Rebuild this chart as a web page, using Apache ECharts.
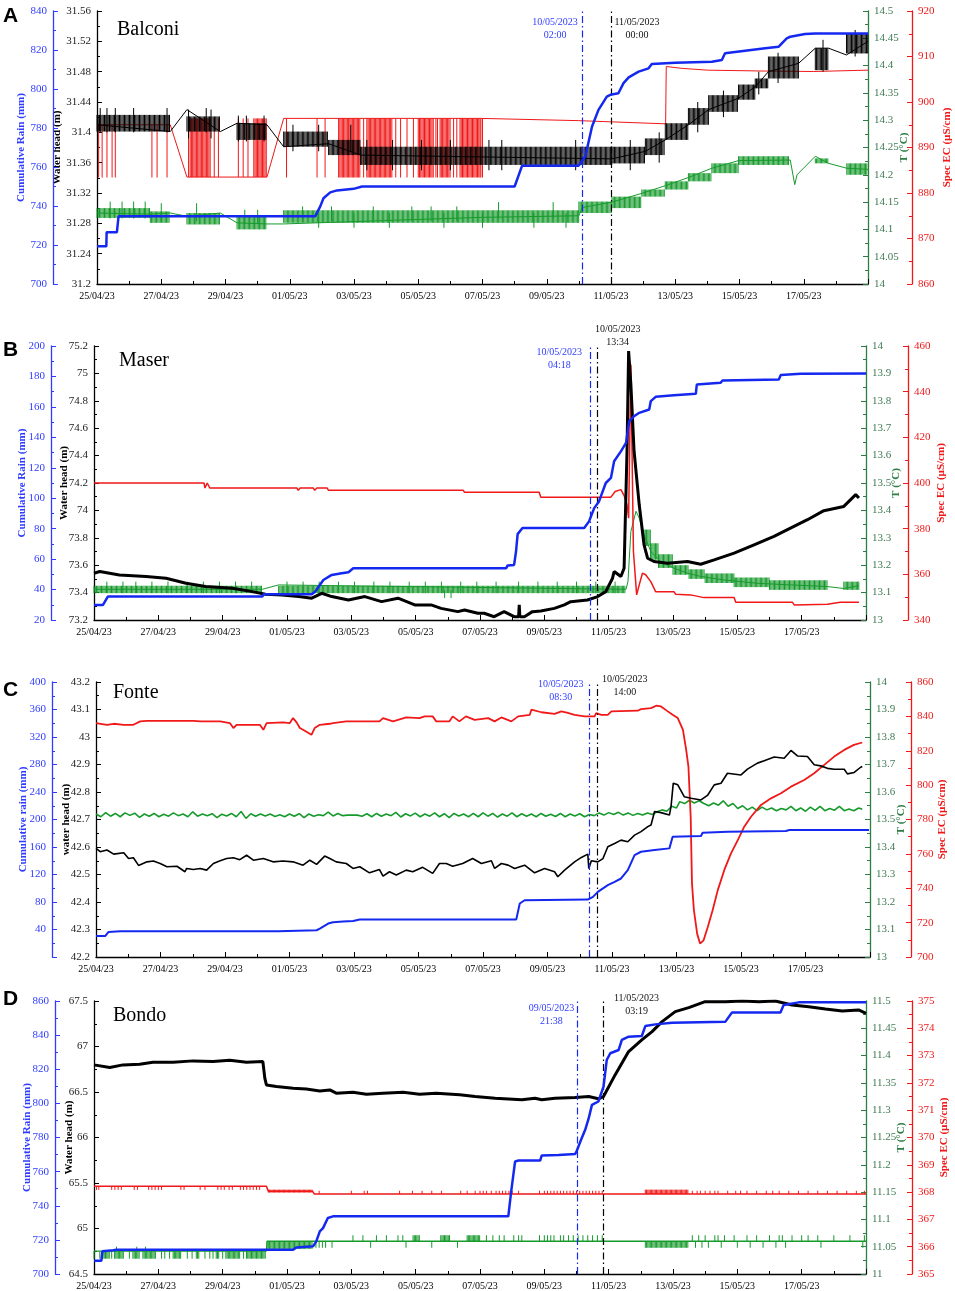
<!DOCTYPE html>
<html>
<head>
<meta charset="utf-8">
<script src="https://cdn.jsdelivr.net/npm/echarts@6/dist/echarts.min.js"></script>
<style>
html, body { margin: 0; padding: 0; background: #fff; }
#chart { width: 955px; height: 1291px; }
</style>
</head>
<body>
<div id="chart"></div>
<script>
// time is in days since 25/04/2023 00:00

// ---- A: Balconi ----
const aRain = [[0,719.3],[0.29,719.3],[0.3,726.6],[0.62,726.6],[0.67,734.7],[6.79,734.7],[6.95,739.8],[7.05,744],[7.26,747],[7.47,748],[7.99,748.8],[8.25,750],[13.0,750],[13.23,760.6],[14.99,760.6],[15.2,765.4],[15.41,780.8],[15.61,789.3],[15.87,796.1],[15.98,797],[16.23,797.8],[16.39,803],[16.55,806],[16.86,808.9],[17.17,810.6],[17.27,812.8],[18.0,813.5],[19.14,814],[19.45,814.9],[19.55,818.3],[20.8,820.9],[21.22,821.7],[21.47,826],[21.58,826.8],[22.04,828.2],[22.36,828.5],[24.0,828.5]];
const aHead = [[0,31.41],[2.28,31.401],[2.8,31.43],[3.84,31.401],[4.36,31.412],[5.29,31.41],[5.81,31.381],[7.21,31.385],[8.2,31.37],[16.03,31.365],[17.07,31.375],[17.69,31.39],[18.41,31.41],[19.04,31.43],[19.97,31.445],[20.49,31.46],[20.9,31.48],[21.84,31.491],[22.36,31.511],[22.77,31.511],[23.33,31.502],[24.0,31.52]];
const aHeadBlocks = [[0,2.28,31.401,31.423],[2.8,3.84,31.401,31.421],[4.36,5.29,31.39,31.412],[5.81,7.21,31.381,31.401],[7.21,8.2,31.37,31.39],[8.2,16.03,31.357,31.381],[16.03,17.07,31.359,31.381],[17.07,17.69,31.37,31.392],[17.69,18.41,31.39,31.412],[18.41,19.04,31.41,31.432],[19.04,19.97,31.427,31.449],[19.97,20.49,31.443,31.463],[20.49,20.9,31.458,31.471],[20.9,21.84,31.471,31.5],[22.36,22.77,31.482,31.511],[23.33,24.0,31.504,31.53]];
const aHeadSpikes = [
  [31.40, 31.432, [0.1, 0.31, 0.57, 1.14, 2.18, 3.4]],
  [31.392, 31.43, [2.85, 3.55]],
  [31.388, 31.422, [4.4, 4.65, 5.2]],
  [31.375, 31.41, [6.1, 6.9, 7.9]],
  [31.35, 31.39, [8.4, 9.2, 10.1, 11.0, 12.2, 12.6, 14.9, 16.6]],
  [31.36, 31.40, [17.5]], [31.40, 31.44, [18.7]], [31.42, 31.455, [19.5]],
  [31.45, 31.48, [20.6]], [31.465, 31.505, [21.2]], [31.48, 31.522, [22.6]], [31.50, 31.535, [23.6]]
];
const aTemp = [[0,14.13],[1.66,14.128],[2.28,14.13],[2.8,14.124],[3.84,14.13],[4.36,14.112],[5.29,14.11],[5.81,14.11],[11.93,14.122],[15.0,14.125],[15.1,14.14],[16.03,14.15],[16.96,14.166],[17.69,14.18],[18.41,14.195],[19.14,14.212],[19.97,14.226],[21.58,14.227],[21.72,14.182],[21.79,14.2],[22.36,14.234],[22.77,14.221],[23.34,14.212],[24,14.21]];
const aTempBlocks = [[0,1.66,14.121,14.139],[1.66,2.28,14.112,14.133],[2.8,3.84,14.109,14.13],[4.36,5.29,14.1,14.124],[5.81,15.0,14.112,14.135],[15.0,16.03,14.13,14.151],[16.03,16.96,14.139,14.16],[16.96,17.69,14.16,14.173],[17.69,18.41,14.173,14.188],[18.41,19.14,14.188,14.203],[19.14,19.97,14.203,14.221],[19.97,21.53,14.218,14.234],[22.36,22.77,14.221,14.23],[23.34,24,14.2,14.221]];
const aTempSpikes = [
  [14.12, 14.151, [0.41, 0.78, 1.14, 1.5]],
  [14.115, 14.148, [2.0, 3.1]],
  [14.11, 14.136, [4.6, 5.0]],
  [14.115, 14.142, [6.4, 7.3, 8.6, 9.8, 10.4, 11.2]],
  [14.103, 14.13, [6.9, 8.0, 9.1, 10.8, 12.0, 13.6, 14.6]],
  [14.12, 14.15, [12.5, 14.2]]
];
const aEc = [[0,895],[2.28,895],[2.8,883.5],[5.29,883.5],[5.81,896.4],[11.93,896.4],[15.0,895.9],[17.7,895.2],[17.72,907.8],[18.2,907.4],[19.0,907.0],[20.8,906.8],[22.3,906.7],[24.0,907.0]];
const aEcBlocks = [[2.9,3.53,883.5,896.4],[4.88,5.29,883.5,896.4],[7.52,8.2,883.4,896.4],[8.4,9.18,883.4,896.4],[10.0,10.48,883.4,896.4],[10.68,11.0,883.4,896.4],[11.3,11.93,883.4,896.4]];
const aEcSpikes = [
  [883.4, 895, [0.05, 0.16, 0.31, 0.47, 0.57, 1.71, 1.87, 2.18]],
  [883.5, 896.4, [2.85, 3.65, 3.78, 4.4, 4.55, 4.7]],
  [883.4, 896.4, [5.9, 6.85, 7.1, 8.3, 9.3, 9.45, 9.65, 9.85, 10.55, 10.6, 11.1, 11.2, 11.95, 12.0]]
];

// ---- B: Maser ----
const bRain = [[0,29.9],[0.28,29.9],[0.43,35.4],[5.23,35.4],[5.28,36.9],[6.77,36.9],[6.88,38.7],[7.13,46.3],[7.39,49.6],[7.70,50.7],[7.91,51.4],[8.06,54.0],[12.81,54.0],[12.86,55.8],[13.06,56.2],[13.12,65],[13.17,76.4],[13.32,80.4],[15.24,80.4],[15.39,84.8],[15.55,93.5],[15.70,97.9],[15.91,110],[16.07,113.3],[16.17,124.3],[16.38,130.8],[16.54,136.3],[16.64,150.6],[16.79,153.9],[16.95,156.1],[17.26,158.3],[17.31,163.8],[17.46,166.6],[18.03,167.7],[18.71,168.6],[18.74,174.7],[19.48,175.8],[19.54,177.4],[21.29,178],[21.35,180.9],[21.97,181.8],[24.0,182]];
const bHead = [[0,73.541],[0.18,73.554],[0.79,73.529],[1.62,73.517],[2.24,73.505],[2.86,73.468],[3.47,73.444],[4.3,73.432],[4.92,73.407],[5.33,73.388],[5.85,73.383],[6.36,73.371],[6.77,73.359],[7.08,73.395],[7.39,73.371],[7.91,73.346],[8.42,73.371],[8.94,73.334],[9.45,73.359],[9.97,73.31],[10.48,73.31],[10.79,73.285],[11.31,73.261],[11.52,73.273],[11.93,73.249],[12.13,73.249],[12.44,73.224],[12.75,73.261],[13.06,73.224],[13.2,73.224],[13.22,73.31],[13.24,73.224],[13.38,73.224],[13.63,73.261],[13.89,73.266],[14.31,73.285],[14.62,73.31],[14.82,73.334],[15.34,73.346],[15.66,73.371],[15.91,73.407],[16.12,73.505],[16.17,73.554],[16.38,73.517],[16.48,73.578],[16.57,74.432],[16.62,75.163],[16.66,75.171],[16.69,74.92],[16.79,74.432],[16.95,74.041],[17.1,73.749],[17.21,73.651],[17.41,73.627],[17.83,73.615],[18.45,73.627],[18.86,73.607],[19.28,73.639],[19.9,73.688],[20.52,73.749],[21.14,73.81],[21.76,73.883],[22.18,73.932],[22.69,73.998],[23.31,74.029],[23.68,74.115],[23.78,74.09]];
const bTemp = [[0,13.112],[5.23,13.112],[5.74,13.128],[16.54,13.112],[16.6,13.14],[16.69,13.323],[16.85,13.397],[16.95,13.372],[17.1,13.311],[17.31,13.25],[17.62,13.213],[18.03,13.189],[18.45,13.171],[18.86,13.159],[19.59,13.146],[20.62,13.134],[21.66,13.128],[22.8,13.122],[23.31,13.115],[23.78,13.125]];
const bTempBlocks = [[0,5.23,13.098,13.125],[5.74,16.54,13.098,13.125],[17.1,17.3,13.27,13.33],[17.3,17.55,13.22,13.28],[17.55,18.0,13.19,13.24],[18.0,18.5,13.165,13.2],[18.5,19.0,13.15,13.185],[19.0,19.9,13.135,13.17],[19.9,21.0,13.12,13.155],[21.0,22.8,13.11,13.145],[23.31,23.78,13.11,13.14]];
const bTempSpikes = [
  [13.098, 13.14, [0.4,0.9,1.3,1.8,2.3,2.9,3.4,3.9,4.4,4.9,6.0,6.5,7.0,7.6,8.1,8.7,9.2,9.8,10.3,10.8,11.4,11.9,12.5,13.2,13.8,14.4,15.0,15.6,16.2]],
  [13.08, 13.11, [10.9, 11.1]]
];
const bEc = [[0,400],[3.42,400],[3.45,397.8],[3.52,400],[3.6,397.8],[6.31,397.8],[6.35,396.8],[6.41,397.8],[6.82,397.8],[6.86,396.8],[6.93,397.8],[7.25,397.8],[7.29,396.8],[10.79,396.8],[10.82,396],[10.86,396.8],[11.48,396.8],[11.52,395.9],[13.84,395.9],[13.89,393.8],[16.07,393.8],[16.2,396.3],[16.38,397.1],[16.48,394.5],[16.57,390.5],[16.62,384.6],[16.66,384.6],[16.69,451.9],[16.77,370],[16.87,351],[16.95,355.4],[17.05,360.5],[17.15,359.8],[17.31,356.8],[17.46,352.4],[18.03,352.4],[18.08,351.3],[18.55,351],[18.96,349.8],[19.9,349.8],[19.95,347.8],[21.71,347.8],[21.77,346.6],[22.8,346.9],[23.2,347.8],[23.78,347.8]];

// ---- C: Fonte ----
const cRain = [[0,30.6],[0.29,30.6],[0.39,36.5],[0.75,37.4],[5.65,37.4],[5.7,38.9],[6.84,38.9],[6.94,41.3],[7.2,48.6],[7.35,50.5],[7.66,51.5],[7.97,52.5],[8.18,54.4],[13.03,54.4],[13.14,77.8],[13.29,82.6],[15.25,83.6],[15.41,87.5],[15.56,94.8],[15.87,104.5],[16.08,109.4],[16.28,114.2],[16.49,126.4],[16.7,148.2],[16.9,153.1],[17.32,155.5],[17.78,158],[17.88,175],[18.76,176],[18.81,180.8],[19.59,182.3],[21.39,183.2],[21.5,184.7],[23.97,184.7]];
const cHead = [[0,42.595],[0.13,42.583],[0.34,42.589],[0.55,42.574],[0.86,42.579],[1.01,42.558],[1.16,42.561],[1.32,42.533],[1.58,42.546],[1.78,42.549],[1.99,42.54],[2.2,42.528],[2.51,42.53],[2.76,42.51],[2.81,42.522],[3.02,42.518],[3.23,42.522],[3.43,42.516],[3.64,42.54],[3.85,42.55],[4.05,42.558],[4.26,42.561],[4.46,42.554],[4.67,42.57],[4.88,42.552],[5.19,42.558],[5.49,42.546],[5.8,42.549],[6.11,42.546],[6.42,42.534],[6.63,42.552],[6.84,42.537],[7.09,42.567],[7.25,42.558],[7.45,42.546],[7.76,42.54],[7.97,42.522],[8.18,42.528],[8.48,42.506],[8.79,42.518],[8.9,42.494],[9.1,42.51],[9.31,42.498],[9.62,42.516],[9.82,42.51],[10.13,42.526],[10.44,42.504],[10.65,42.54],[10.86,42.54],[11.06,42.53],[11.37,42.54],[11.68,42.558],[11.95,42.54],[12.26,42.55],[12.36,42.522],[12.57,42.54],[12.78,42.534],[12.98,42.522],[13.29,42.534],[13.6,42.506],[13.91,42.522],[14.22,42.51],[14.32,42.492],[14.53,42.516],[14.84,42.546],[15.05,42.562],[15.25,42.574],[15.28,42.522],[15.36,42.55],[15.56,42.546],[15.72,42.558],[15.87,42.601],[16.08,42.613],[16.28,42.625],[16.49,42.619],[16.7,42.643],[16.9,42.656],[17.11,42.674],[17.21,42.68],[17.32,42.729],[17.52,42.725],[17.78,42.716],[17.83,42.747],[17.9,42.832],[18.04,42.826],[18.24,42.783],[18.45,42.777],[18.76,42.771],[18.97,42.789],[19.17,42.826],[19.38,42.832],[19.58,42.868],[20.0,42.862],[20.2,42.883],[20.51,42.905],[20.72,42.914],[21.03,42.927],[21.34,42.923],[21.55,42.951],[21.75,42.931],[22.06,42.929],[22.27,42.899],[22.47,42.895],[22.68,42.886],[22.89,42.883],[23.2,42.883],[23.3,42.866],[23.51,42.871],[23.71,42.89],[23.76,42.893]];
const cTemp = [[0,13.52],[0.15,13.51],[0.3,13.525],[0.45,13.512],[0.6,13.522],[0.75,13.51],[0.9,13.524],[1.05,13.515],[1.2,13.523],[1.35,13.508],[1.5,13.52],[1.65,13.512],[1.8,13.522],[1.95,13.51],[2.1,13.519],[2.25,13.512],[2.4,13.524],[2.55,13.514],[2.7,13.52],[2.85,13.51],[3.0,13.528],[3.15,13.512],[3.3,13.52],[3.45,13.514],[3.6,13.521],[3.75,13.507],[3.9,13.519],[4.05,13.513],[4.2,13.522],[4.35,13.51],[4.5,13.529],[4.65,13.504],[4.8,13.521],[4.95,13.512],[5.1,13.52],[5.25,13.513],[5.4,13.52],[5.55,13.511],[5.7,13.517],[5.85,13.51],[6.0,13.52],[6.15,13.512],[6.3,13.521],[6.45,13.507],[6.6,13.52],[6.75,13.512],[6.9,13.517],[7.05,13.514],[7.2,13.527],[7.35,13.513],[7.5,13.522],[7.65,13.514],[7.8,13.516],[8.1,13.516],[8.25,13.512],[8.4,13.521],[8.55,13.51],[8.7,13.522],[8.85,13.512],[9.0,13.52],[9.15,13.514],[9.3,13.526],[9.45,13.509],[9.6,13.521],[9.75,13.513],[9.9,13.523],[10.05,13.51],[10.2,13.52],[10.35,13.512],[10.5,13.524],[10.65,13.51],[10.8,13.521],[10.95,13.507],[11.1,13.522],[11.25,13.513],[11.4,13.52],[11.55,13.51],[11.7,13.522],[11.85,13.51],[12.0,13.524],[12.15,13.512],[12.3,13.522],[12.45,13.509],[12.6,13.52],[12.75,13.512],[12.9,13.524],[13.05,13.51],[13.2,13.521],[13.35,13.512],[13.5,13.52],[13.65,13.51],[13.8,13.522],[13.95,13.512],[14.1,13.519],[14.25,13.511],[14.4,13.522],[14.55,13.51],[14.7,13.52],[14.85,13.513],[15.0,13.521],[15.15,13.51],[15.3,13.518],[15.45,13.514],[15.6,13.524],[15.75,13.516],[15.9,13.525],[16.05,13.518],[16.2,13.526],[16.35,13.516],[16.5,13.524],[16.65,13.515],[16.8,13.522],[16.95,13.516],[17.1,13.524],[17.25,13.518],[17.4,13.528],[17.55,13.535],[17.7,13.53],[17.85,13.548],[18.0,13.542],[18.1,13.565],[18.25,13.558],[18.4,13.57],[18.55,13.56],[18.7,13.568],[18.85,13.558],[19.0,13.55],[19.15,13.56],[19.3,13.552],[19.45,13.568],[19.6,13.548],[19.75,13.558],[19.9,13.54],[20.05,13.55],[20.2,13.535],[20.35,13.545],[20.5,13.532],[20.65,13.545],[20.8,13.535],[20.95,13.542],[21.1,13.532],[21.25,13.54],[21.4,13.535],[21.55,13.548],[21.7,13.532],[21.85,13.542],[22.0,13.53],[22.15,13.545],[22.3,13.533],[22.45,13.548],[22.6,13.532],[22.75,13.54],[22.9,13.534],[23.05,13.548],[23.2,13.532],[23.35,13.538],[23.5,13.532],[23.65,13.542],[23.76,13.537]];
const cEc = [[0,836.1],[0.34,835.1],[0.55,835.7],[0.86,835.1],[1.16,835.1],[1.37,837.1],[1.58,837.4],[2.2,837.4],[3.02,837.4],[3.23,837.1],[3.85,837.1],[4.15,836.1],[4.26,833.2],[4.36,835.1],[5.08,835.1],[5.19,832.2],[5.29,836.1],[5.8,836.5],[6.01,836.1],[6.11,839.0],[6.22,836.5],[6.32,833.2],[6.42,832.2],[6.68,829.3],[6.78,833.2],[6.94,835.1],[7.25,835.7],[7.35,836.1],[7.76,837.1],[8.79,837.1],[8.9,839.0],[9.21,837.1],[9.62,839.4],[10.03,839.0],[10.19,840],[10.44,840],[10.55,837.1],[10.96,837.1],[11.06,840],[11.27,837.1],[11.47,840],[11.74,838],[12.16,839],[12.36,837.1],[12.57,839.4],[12.88,837.1],[13.09,840],[13.45,840.9],[13.5,843.9],[13.81,842.4],[14.22,841.5],[14.43,842.9],[14.63,842],[14.84,840.9],[15.15,840],[15.46,840],[15.51,841.9],[15.67,840.9],[15.87,840.9],[15.98,842.9],[16.8,843.3],[16.9,844.2],[17.21,844.8],[17.37,846.2],[17.52,845.8],[17.73,842.9],[17.88,840.9],[18.04,839],[18.2,832.2],[18.3,820.5],[18.37,810.8],[18.44,781.6],[18.48,742.8],[18.54,727.2],[18.64,713.6],[18.73,707.8],[18.84,709.7],[18.97,717.5],[19.12,727.2],[19.28,738.9],[19.48,750.5],[19.69,760.3],[19.9,768],[20.1,775.8],[20.31,781.6],[20.62,788.5],[20.93,792.3],[21.24,795.3],[21.55,799.1],[21.96,803],[22.27,806.9],[22.58,811.8],[22.89,816.6],[23.2,820.5],[23.5,823.4],[23.76,824.8]];

// ---- D: Bondo ----
const dRain = [[0,707.8],[0.23,707.8],[0.26,713.3],[0.59,713.9],[0.7,714.2],[6.19,714.2],[6.29,715.6],[6.81,716.2],[6.91,719.1],[7.02,725],[7.12,726.9],[7.27,732.8],[7.43,733.8],[12.88,733.8],[12.97,748.4],[13.09,765.9],[13.2,766.5],[13.87,766.5],[13.92,769.5],[14.44,769.8],[14.96,770.4],[15.01,772.2],[15.12,777.6],[15.27,784.5],[15.38,791.3],[15.48,799.1],[15.68,801.1],[15.84,809.8],[15.94,825.4],[16.05,829.4],[16.31,831.3],[16.41,837.2],[16.62,839.1],[17.03,839.5],[17.14,845.3],[17.45,846.3],[17.97,847.3],[19.63,847.9],[19.83,853.2],[21.34,853.2],[21.44,857.6],[21.91,859.2],[24.0,859.2]];
const dHead = [[0,66.798],[0.49,66.769],[0.9,66.798],[1.42,66.805],[1.83,66.827],[2.46,66.827],[3.08,66.842],[3.7,66.834],[4.22,66.849],[4.74,66.827],[5.25,66.834],[5.31,66.652],[5.36,66.578],[5.67,66.56],[6.19,66.542],[6.6,66.534],[7.02,66.512],[7.33,66.523],[7.53,66.487],[8.05,66.498],[8.47,66.476],[8.98,66.487],[9.61,66.498],[10.12,66.476],[10.64,66.487],[11.37,66.469],[11.85,66.45],[12.47,66.432],[13.3,66.414],[13.71,66.432],[13.92,66.414],[14.33,66.432],[14.96,66.439],[15.38,66.45],[15.68,66.425],[15.84,66.45],[16.2,66.688],[16.62,66.944],[17.03,67.072],[17.35,67.164],[17.66,67.273],[18.07,67.383],[18.49,67.427],[19.0,67.493],[19.63,67.493],[20.15,67.5],[20.67,67.493],[21.18,67.5],[21.7,67.456],[22.22,67.438],[22.74,67.413],[23.26,67.391],[23.77,67.402],[24.0,67.365]];
const dTemp = [[0,11.042],[5.36,11.042],[5.38,11.06],[24,11.06]];
const dTempBlocks = [[0.28,0.49,11.028,11.042],[0.64,0.95,11.028,11.042],[1.21,1.42,11.028,11.042],[1.52,1.94,11.028,11.042],[2.46,2.71,11.028,11.042],[3.18,3.28,11.028,11.042],[3.8,3.91,11.028,11.042],[4.1,4.53,11.028,11.042],[4.74,5.36,11.028,11.042],[5.38,6.8,11.046,11.06],[9.92,10.12,11.06,11.071],[10.78,11.08,11.06,11.071],[11.6,12.0,11.06,11.071],[17.14,18.49,11.048,11.06]];
const dTempSpikes = [
  [11.028, 11.042, [0.0, 0.18, 0.55, 1.1, 2.1, 2.2, 2.35, 2.9, 3.05, 3.45, 3.6, 3.7, 4.0, 4.65]],
  [11.042, 11.05, [0.7, 1.33, 1.6]],
  [11.06, 11.071, [8.05,8.36,8.78,9.09,9.45,9.6,12.2,12.4,12.6,12.75,13.05,13.2,13.3,13.85,14.0,14.1,14.2,14.3,14.5,14.6,14.75,14.9,15.05,15.2,15.35,15.5,15.65,15.8,18.6,18.8,19.0,19.3,19.4,19.6,19.9,20.3,20.6,21.0,21.3,21.4,21.7,22.0,22.2,22.5,23.0,23.5,23.95]],
  [11.048, 11.06, [6.9,7.0,7.1,7.2,7.4,8.6,9.7,10.5,11.3,18.7,18.9,19.1,19.5,20.0,20.4,20.8,21.2,21.5,22.6,23.9]]
];
const dEc = [[0,368.21],[5.36,368.21],[5.42,368.03],[6.8,368.03],[6.85,367.93],[24,367.93]];
const dEcBlocks = [[5.42,6.8,367.98,368.09],[17.14,18.49,367.93,368.09]];
const dEcSpikes = [
  [368.08, 368.21, [0.08,0.15,0.55,0.65,0.75,0.85,1.25,1.35,1.7,1.8,1.9,2.0,2.1,2.7,2.8,3.3,3.45,3.85,3.95,4.05,4.2,4.3,4.55,4.65,4.75,4.85,4.95,5.05,5.15]],
  [367.93, 368.05, [7.0,8.0,8.4,8.5,9.5,9.9,10.2,10.5,10.8,11.4,11.6,11.85,12.0,12.1,12.2,12.35,12.5,12.6,12.7,12.8,12.9,13.0,13.2,13.85,14.0,14.1,14.2,14.3,14.4,14.5,14.6,14.7,14.8,14.9,15.0,15.1,15.2,15.3,15.4,15.5,15.6,15.7,15.8,18.6,18.75,18.85,19.0,19.15,19.3,19.4,19.7,19.95,20.1,20.3,20.6,20.9,21.1,21.3,21.6,21.9,22.2,22.5,22.8,23.1,23.4,23.7,23.95]]
];

// event markers
const markBlue = [15.1, 15.43, 15.31, 15.03];
const markBlack = [16.0, 15.66, 15.53, 15.84];
const markBlueText = [['10/05/2023', '02:00'], ['10/05/2023', '04:18'], ['10/05/2023', '08:30'], ['09/05/2023', '21:38']];
const markBlackText = [['11/05/2023', '00:00'], ['10/05/2023', '13:34'], ['10/05/2023', '14:00'], ['11/05/2023', '03:19']];

const SERIF = '"Liberation Serif", "Times New Roman", serif';
const BLUE = '#1428f0';
const BLUE_AX = '#2f3cff';
const RED = '#f01818';
const GREEN = '#169a2c';
const GREEN_AX = '#2e7d45';

const panels = [
  {letter: 'A', title: 'Balconi', rain: aRain, head: aHead, temp: aTemp, ec: aEc,
   headBlk: [aHeadBlocks, aHeadSpikes], tempBlk: [aTempBlocks, aTempSpikes], ecBlk: [aEcBlocks, aEcSpikes],
   headAx: [31.2, 31.56, 0.04, 'Water head (m)'], rainAx: [700, 840, 20, 'Cumulative Rain (mm)'],
   tempAx: [14, 14.5, 0.05], ecAx: [860, 920, 10], widths: [2.5, 1, 1, 1]},
  {letter: 'B', title: 'Maser', rain: bRain, head: bHead, temp: bTemp, ec: bEc,
   tempBlk: [bTempBlocks, bTempSpikes],
   headAx: [73.2, 75.2, 0.2, 'Water head (m)'], rainAx: [20, 200, 20, 'Cumulative Rain (mm)'],
   tempAx: [13, 14, 0.1], ecAx: [340, 460, 20], widths: [2.5, 3, 1, 1.5]},
  {letter: 'C', title: 'Fonte', rain: cRain, head: cHead, temp: cTemp, ec: cEc,
   headAx: [42.2, 43.2, 0.1, 'water head (m)'], rainAx: [0, 400, 40, 'Cumulative rain (mm)', true],
   tempAx: [13, 14, 0.1], ecAx: [700, 860, 20], widths: [2, 1.6, 1.6, 1.8]},
  {letter: 'D', title: 'Bondo', rain: dRain, head: dHead, temp: dTemp, ec: dEc,
   tempBlk: [dTempBlocks, dTempSpikes], ecBlk: [dEcBlocks, dEcSpikes],
   headAx: [64.5, 67.5, 0.5, 'Water head (m)'], rainAx: [700, 860, 20, 'Cumulative Rain (mm)'],
   tempAx: [11, 11.5, 0.05], ecAx: [365, 375, 1], widths: [2.5, 3, 1.3, 1.5]}
];

const layout = [
  {left: 97, right: 87, top: 11, height: 273, rainOff: 44, ecOff: 44, gaps: [34, 26, 31, 30], letterTop: 6, titleX: 117, titleY: 30, blueDx: -27, blueY: 15.5, blackDx: 26, blackY: 15.5},
  {left: 94, right: 89, top: 346, height: 274, rainOff: 43, ecOff: 42, gaps: [24, 23, 25, 28], letterTop: 340, titleX: 119, titleY: 361, blueDx: -31, blueY: 345.5, blackDx: 20, blackY: 322.5},
  {left: 96, right: 85, top: 682, height: 275, rainOff: 44, ecOff: 41, gaps: [24, 23, 26, 26], letterTop: 680, titleX: 113, titleY: 693, blueDx: -29, blueY: 677.5, blackDx: 28, blackY: 672.5},
  {left: 94, right: 89, top: 1001, height: 273, rainOff: 39, ecOff: 46, gaps: [19, 22, 30, 27], letterTop: 989, titleX: 113, titleY: 1016, blueDx: -26, blueY: 1001.5, blackDx: 33, blackY: 991.5}
];

function dayLabel(v) {
  const d = new Date(2023, 3, 25 + Math.round(v));
  return String(d.getDate()).padStart(2, '0') + '/' + String(d.getMonth() + 1).padStart(2, '0') + '/23';
}

function valueAxis(p, pos, offset, ax, color, labelColor, nameColor, gap, name) {
  return {
    type: 'value', gridIndex: p, position: pos, offset: offset,
    min: ax[0], max: ax[1], interval: ax[2],
    name: name, nameLocation: 'middle', nameGap: gap, nameRotate: 90, nameMoveOverlap: false,
    nameTextStyle: {color: nameColor, fontFamily: SERIF, fontWeight: 'bold', fontSize: 11},
    axisLine: {show: true, onZero: false, lineStyle: {color: color, width: 1.3}},
    axisTick: {show: true, inside: true, length: 5, lineStyle: {color: color}},
    minorTick: {show: true, splitNumber: 2, length: 3, lineStyle: {color: color}},
    axisLabel: {color: labelColor, fontFamily: SERIF, fontSize: 11, margin: 6,
      showMinLabel: !ax[4], formatter: v => String(+v.toFixed(3))},
    splitLine: {show: false}
  };
}

// blocks are [t0, t1, lo, hi]; spike groups are [lo, hi, times]
function blockData(blk) {
  const out = blk[0].slice();
  blk[1].forEach(g => g[2].forEach(t => out.push([t, t, g[0], g[1]])));
  return out;
}

// dense noisy stretches are drawn as a comb of thin vertical strokes
function blockItem(color) {
  return function (params, api) {
    const a = api.coord([api.value(0), api.value(3)]);
    const b = api.coord([api.value(1), api.value(2)]);
    const kids = [];
    const end = Math.max(b[0], a[0]);
    for (let x = a[0]; x <= end + 0.01; x += 1.25) {
      kids.push({type: 'line', shape: {x1: x, y1: a[1], x2: x, y2: b[1]}, style: {stroke: color, lineWidth: 1}});
    }
    return {type: 'group', children: kids};
  };
}

const grids = [], xAxes = [], yAxes = [], series = [];

panels.forEach((pc, p) => {
  const L = layout[p];
  grids.push({left: L.left, right: L.right, top: L.top, height: L.height, containLabel: false, outerBoundsMode: 'none'});
  xAxes.push({
    type: 'value', gridIndex: p, min: 0, max: 24, interval: 2,
    axisLine: {onZero: false, lineStyle: {color: '#000', width: 1.3}},
    axisTick: {inside: true, length: 5, lineStyle: {color: '#000'}},
    minorTick: {show: true, splitNumber: 2, length: 3, lineStyle: {color: '#000'}},
    axisLabel: {formatter: dayLabel, showMaxLabel: false, fontFamily: SERIF, fontSize: 10, color: '#000', margin: 7},
    splitLine: {show: false}
  });
  const y0 = p * 4;
  yAxes.push(valueAxis(p, 'left', 0, pc.headAx, '#000', '#222', '#000', L.gaps[0], pc.headAx[3]));
  yAxes.push(valueAxis(p, 'left', L.rainOff, pc.rainAx, BLUE_AX, BLUE_AX, BLUE_AX, L.gaps[1], pc.rainAx[3]));
  yAxes.push(valueAxis(p, 'right', 0, pc.tempAx, GREEN_AX, '#3f7a52', GREEN_AX, L.gaps[2], 'T (°C)'));
  yAxes.push(valueAxis(p, 'right', L.ecOff, pc.ecAx, RED, RED, RED, L.gaps[3], 'Spec EC (µS/cm)'));

  const line = (data, yi, color, width, z, extra) => Object.assign({
    type: 'line', xAxisIndex: p, yAxisIndex: y0 + yi, data: data,
    showSymbol: false, symbol: 'none', silent: true, z: z,
    lineStyle: {color: color, width: width}
  }, extra || {});
  const blocks = (blk, yi, color, z) => ({
    type: 'custom', xAxisIndex: p, yAxisIndex: y0 + yi, data: blockData(blk),
    encode: {x: [0, 1], y: [2, 3]}, renderItem: blockItem(color), silent: true, z: z
  });

  series.push(line(pc.temp, 2, GREEN, pc.widths[2], 2));
  if (pc.tempBlk) series.push(blocks(pc.tempBlk, 2, GREEN, 2));
  series.push(line(pc.ec, 3, RED, pc.widths[3], 3));
  if (pc.ecBlk) series.push(blocks(pc.ecBlk, 3, RED, 3));
  series.push(line(pc.head, 0, '#000', pc.widths[1], 4, {
    markLine: {symbol: 'none', silent: true, label: {show: false},
      lineStyle: {color: '#000', type: [7, 3, 1.5, 3], width: 1.2},
      data: [{xAxis: markBlack[p]}]}
  }));
  if (pc.headBlk) series.push(blocks(pc.headBlk, 0, '#000', 4));
  series.push(line(pc.rain, 1, BLUE, pc.widths[0], 5, {
    markLine: {symbol: 'none', silent: true, label: {show: false},
      lineStyle: {color: BLUE, type: [7, 3, 1.5, 3], width: 1.2},
      data: [{xAxis: markBlue[p]}]}
  }));
});

const chart = echarts.init(document.getElementById('chart'));
chart.setOption({
  animation: false,
  backgroundColor: '#fff',
  grid: grids, xAxis: xAxes, yAxis: yAxes, series: series
});

const g = [];
panels.forEach((pc, p) => {
  const L = layout[p];
  g.push({type: 'text', x: 3, y: L.letterTop, style: {text: pc.letter, font: 'bold 21px "Liberation Sans", Arial, sans-serif', fill: '#000', verticalAlign: 'top'}});
  g.push({type: 'text', x: L.titleX, y: L.titleY, style: {text: pc.title, font: '20px ' + SERIF, fill: '#000', verticalAlign: 'middle'}});
  const bx = chart.convertToPixel({xAxisIndex: p}, markBlue[p]);
  const kx = chart.convertToPixel({xAxisIndex: p}, markBlack[p]);
  g.push({type: 'text', x: bx + L.blueDx, y: L.blueY, style: {text: markBlueText[p].join('\n'), font: '10px ' + SERIF, fill: BLUE_AX, align: 'center', verticalAlign: 'top', lineHeight: 13}});
  g.push({type: 'text', x: kx + L.blackDx, y: L.blackY, style: {text: markBlackText[p].join('\n'), font: '10px ' + SERIF, fill: '#111', align: 'center', verticalAlign: 'top', lineHeight: 13}});
});
chart.setOption({graphic: g});
</script>
</body>
</html>
